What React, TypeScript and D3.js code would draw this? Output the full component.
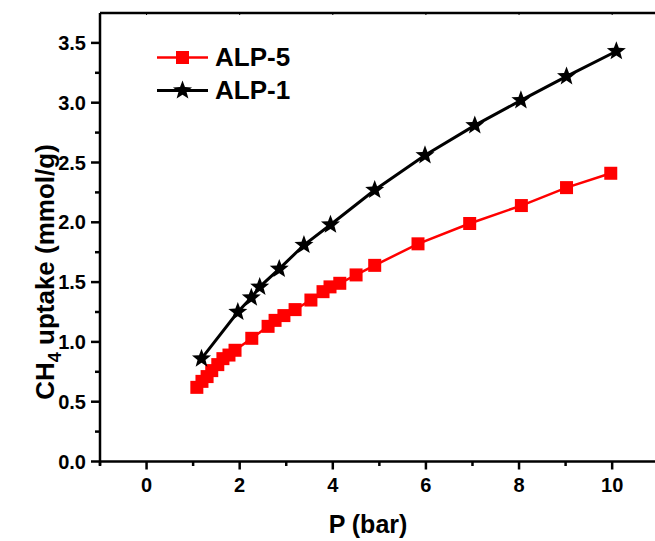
import React from "react";
import * as d3 from "d3";

const alp5P = [1.08, 1.19, 1.30, 1.40, 1.53, 1.64, 1.77, 1.90, 2.26, 2.61, 2.76, 2.95, 3.19, 3.53, 3.79, 3.94, 4.15, 4.50, 4.90, 5.83, 6.94, 8.05, 9.02, 9.97];
const alp5U = [0.62, 0.67, 0.71, 0.76, 0.81, 0.86, 0.89, 0.93, 1.03, 1.13, 1.18, 1.22, 1.27, 1.35, 1.42, 1.46, 1.49, 1.56, 1.64, 1.82, 1.99, 2.14, 2.29, 2.41];
const alp1P = [1.18, 1.96, 2.25, 2.43, 2.85, 3.38, 3.95, 4.90, 5.98, 7.05, 8.04, 9.02, 10.09];
const alp1U = [0.86, 1.25, 1.37, 1.46, 1.61, 1.81, 1.98, 2.27, 2.56, 2.81, 3.02, 3.22, 3.43];
const xTicks = [0, 2, 4, 6, 8, 10];
const xMinorTicks = [-1, 1, 3, 5, 7, 9];
const yTicks = [0, 0.5, 1.0, 1.5, 2.0, 2.5, 3.0, 3.5];
const yMinorTicks = [0.25, 0.75, 1.25, 1.75, 2.25, 2.75, 3.25];
const seriesNames = ["ALP-5", "ALP-1"];

const W = 655, H = 541;
const left = 100, top = 13, bottom = 461.5;
const x = d3.scaleLinear().domain([-1, 11.05]).range([left, left + 12.05 * 46.56]);
const y = d3.scaleLinear().domain([0, 3.75]).range([bottom, top]);

const font = "'Liberation Sans', Arial, sans-serif";

function starPath(cx: number, cy: number, R: number, r: number) {
  const pts: [number, number][] = [];
  for (let i = 0; i < 10; i++) {
    const a = -Math.PI / 2 + (i * Math.PI) / 5;
    const rad = i % 2 === 0 ? R : r;
    pts.push([cx + rad * Math.cos(a), cy + rad * Math.sin(a)]);
  }
  return "M" + pts.map((p) => p.join(",")).join("L") + "Z";
}

export default function App() {
  const line = d3.line<[number, number]>().x((d) => x(d[0])).y((d) => y(d[1]));
  const d5: [number, number][] = alp5P.map((p, i) => [p, alp5U[i]]);
  const d1: [number, number][] = alp1P.map((p, i) => [p, alp1U[i]]);
  const sq = 13;
  const right = W + 5;
  return (
    <svg width={W} height={H} style={{ position: "absolute", left: 0, top: 0, background: "#fff" }}>
      <rect x={0} y={0} width={W} height={H} fill="#fff" />
      {/* axes */}
      <line x1={left} x2={right} y1={bottom} y2={bottom} stroke="#000" strokeWidth={2.5} />
      <line x1={left} x2={right} y1={top} y2={top} stroke="#000" strokeWidth={2.5} />
      <line x1={left} x2={left} y1={top} y2={bottom + 4} stroke="#000" strokeWidth={2.5} />
      {xTicks.map((t) => (
        <g key={"xt" + t}>
          <line x1={x(t)} x2={x(t)} y1={bottom} y2={bottom + 8} stroke="#000" strokeWidth={2.5} />
          <line x1={x(t)} x2={x(t)} y1={top} y2={top + 2} stroke="#000" strokeWidth={1} />
          <text x={x(t)} y={492} textAnchor="middle" fontFamily={font} fontWeight="bold" fontSize={20}>{t}</text>
        </g>
      ))}
      {xMinorTicks.map((t) => (
        <line key={"xm" + t} x1={x(t)} x2={x(t)} y1={bottom} y2={bottom + 4.5} stroke="#000" strokeWidth={2.5} />
      ))}
      {yTicks.map((t) => (
        <g key={"yt" + t}>
          <line x1={left - 9} x2={left} y1={y(t)} y2={y(t)} stroke="#000" strokeWidth={2.5} />
          <text x={86} y={y(t) + 7} textAnchor="end" fontFamily={font} fontWeight="bold" fontSize={20}>{t.toFixed(1)}</text>
        </g>
      ))}
      {yMinorTicks.map((t) => (
        <line key={"ym" + t} x1={left - 5} x2={left} y1={y(t)} y2={y(t)} stroke="#000" strokeWidth={2.5} />
      ))}
      {/* axis titles */}
      <text x={368} y={533} textAnchor="middle" fontFamily={font} fontWeight="bold" fontSize={25}>P (bar)</text>
      <text transform={`translate(54,272) rotate(-90)`} textAnchor="middle" fontFamily={font} fontWeight="bold" fontSize={26}>
        CH<tspan fontSize={18} dy={7}>4</tspan><tspan dy={-7}> uptake (mmol/g)</tspan>
      </text>
      {/* series */}
      <path d={line(d5) || ""} fill="none" stroke="#ff0000" strokeWidth={2.5} />
      {d5.map((d, i) => (
        <rect key={"r" + i} x={x(d[0]) - sq / 2} y={y(d[1]) - sq / 2} width={sq} height={sq} fill="#ff0000" />
      ))}
      <path d={line(d1) || ""} fill="none" stroke="#000" strokeWidth={3} />
      {d1.map((d, i) => (
        <path key={"s" + i} d={starPath(x(d[0]), y(d[1]), 10, 4.2)} fill="#000" />
      ))}
      {/* legend */}
      <line x1={157} x2={208} y1={57.5} y2={57.5} stroke="#ff0000" strokeWidth={2.5} />
      <rect x={182.5 - 6.5} y={57.5 - 6.5} width={13} height={13} fill="#ff0000" />
      <text x={215} y={65.5} fontFamily={font} fontWeight="bold" fontSize={26}>{seriesNames[0]}</text>
      <line x1={157} x2={208} y1={90.5} y2={90.5} stroke="#000" strokeWidth={3} />
      <path d={starPath(182.5, 90.5, 10, 4.2)} fill="#000" />
      <text x={215} y={99} fontFamily={font} fontWeight="bold" fontSize={26}>{seriesNames[1]}</text>
    </svg>
  );
}
